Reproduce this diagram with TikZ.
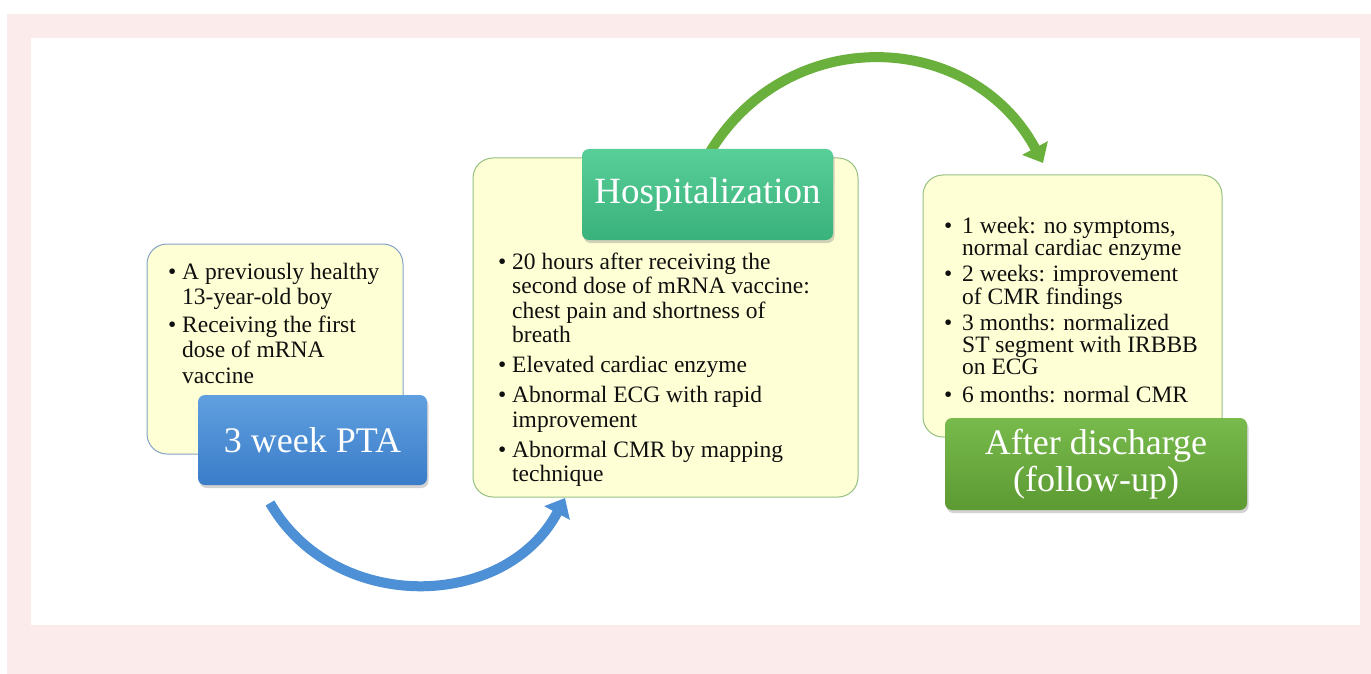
\documentclass[tikz,border=0pt]{standalone}
\usepackage{fontspec}
\setmainfont{Liberation Serif}
\usetikzlibrary{arrows.meta,shadows}
\definecolor{pinkbg}{RGB}{251,235,235}
\definecolor{cream}{RGB}{255,255,213}
\definecolor{bordblue}{RGB}{132,162,200}
\definecolor{bordgreen}{RGB}{150,192,130}
\definecolor{bluetop}{RGB}{96,160,224}
\definecolor{bluebot}{RGB}{58,124,200}
\definecolor{tealtop}{RGB}{88,206,152}
\definecolor{tealbot}{RGB}{58,178,124}
\definecolor{greentop}{RGB}{120,186,76}
\definecolor{greenbot}{RGB}{92,154,50}
\definecolor{arrblue}{RGB}{78,144,214}
\definecolor{arrgreen}{RGB}{106,176,60}
\definecolor{bodyink}{RGB}{15,15,15}
\newcommand\bitem[2]{\makebox[#1][l]{\textbullet}#2}
\newcommand\bcont[2]{\hspace*{#1}#2}
\newcommand\bodyblock[2]{\parbox[t]{#1}{\raggedright\lineskiplimit=-20pt\relax #2}}
\begin{document}
\begin{tikzpicture}[x=1pt,y=-1pt,
  infobox/.style={draw=#1, line width=1pt, fill=cream, rounded corners=20pt, inner sep=0pt},
  titlebox/.style 2 args={rounded corners=7pt, top color=#1, bottom color=#2, text=white, inner sep=0pt,
     drop shadow={shadow xshift=1.5pt, shadow yshift=-3pt, opacity=0.35}},
  bodytext/.style={anchor=base west, inner sep=0pt, text=bodyink},
  flowarrow/.style={draw=#1, line width=10pt, -{Triangle[width=28pt,length=17pt]}}
]
\useasboundingbox (0,0) rectangle (1371,674);
\fill[pinkbg] (7,14) rectangle (1371,674);
\fill[white] (31,38) rectangle (1360,625);

% arrow end points
\coordinate (b0) at (270,503);
\coordinate (b1) at (565,498);
\coordinate (g0) at (710,152);
\coordinate (g1) at (1043,163);

\draw[flowarrow=arrblue] (b0) .. controls (334,614) and (505,611) .. (b1);
\draw[flowarrow=arrgreen] (g0) .. controls (789,22) and (972,30) .. (g1);

% box 1
\node[infobox=bordblue, minimum width=256pt, minimum height=210pt] (box1) at (275,349) {};
\node[bodytext, font=\fontsize{23.5}{25.5}\selectfont] (txt1) at (168,279) {\bodyblock{240pt}{%
\bitem{14pt}{A previously healthy}\\
\bcont{14pt}{13-year-old boy}\\[2pt]
\bitem{14pt}{Receiving the first}\\
\bcont{14pt}{dose of mRNA}\\
\bcont{14pt}{vaccine}}};
\node[titlebox={bluetop}{bluebot}, minimum width=229pt, minimum height=90pt, font=\fontsize{36}{38}\selectfont] (pta) at (312.5,440) {3 week PTA};

% box 2
\node[infobox=bordgreen, minimum width=385pt, minimum height=339pt] (box2) at (665.5,327.5) {};
\node[bodytext, font=\fontsize{23.5}{24.5}\selectfont] (txt2) at (498,269) {\bodyblock{360pt}{%
\bitem{14pt}{20 hours after receiving the}\\
\bcont{14pt}{second dose of mRNA vaccine:}\\
\bcont{14pt}{chest pain and shortness of}\\
\bcont{14pt}{breath}\\[5.5pt]
\bitem{14pt}{Elevated cardiac enzyme}\\[5.5pt]
\bitem{14pt}{Abnormal ECG with rapid}\\
\bcont{14pt}{improvement}\\[5.5pt]
\bitem{14pt}{Abnormal CMR by mapping}\\
\bcont{14pt}{technique}}};
\node[titlebox={tealtop}{tealbot}, minimum width=251pt, minimum height=91pt, font=\fontsize{37}{38}\selectfont] (hosp) at (707.5,194.5) {Hospitalization};

% box 3
\node[infobox=bordgreen, minimum width=299pt, minimum height=262pt] (box3) at (1072.5,306) {};
\node[bodytext, font=\fontsize{23.5}{22.5}\selectfont] (txt3) at (944,233) {\bodyblock{280pt}{%
\bitem{18pt}{1 week: no symptoms,}\\
\bcont{18pt}{normal cardiac enzyme}\\[3.5pt]
\bitem{18pt}{2 weeks: improvement}\\
\bcont{18pt}{of CMR findings}\\[3.5pt]
\bitem{18pt}{3 months: normalized}\\
\bcont{18pt}{ST segment with IRBBB}\\
\bcont{18pt}{on ECG}\\[5pt]
\bitem{18pt}{6 months: normal CMR}}};
\node[titlebox={greentop}{greenbot}, minimum width=302pt, minimum height=92pt, align=center, font=\fontsize{36}{37}\selectfont] (after) at (1096,464) {After discharge\\(follow-up)};
\end{tikzpicture}
\end{document}
